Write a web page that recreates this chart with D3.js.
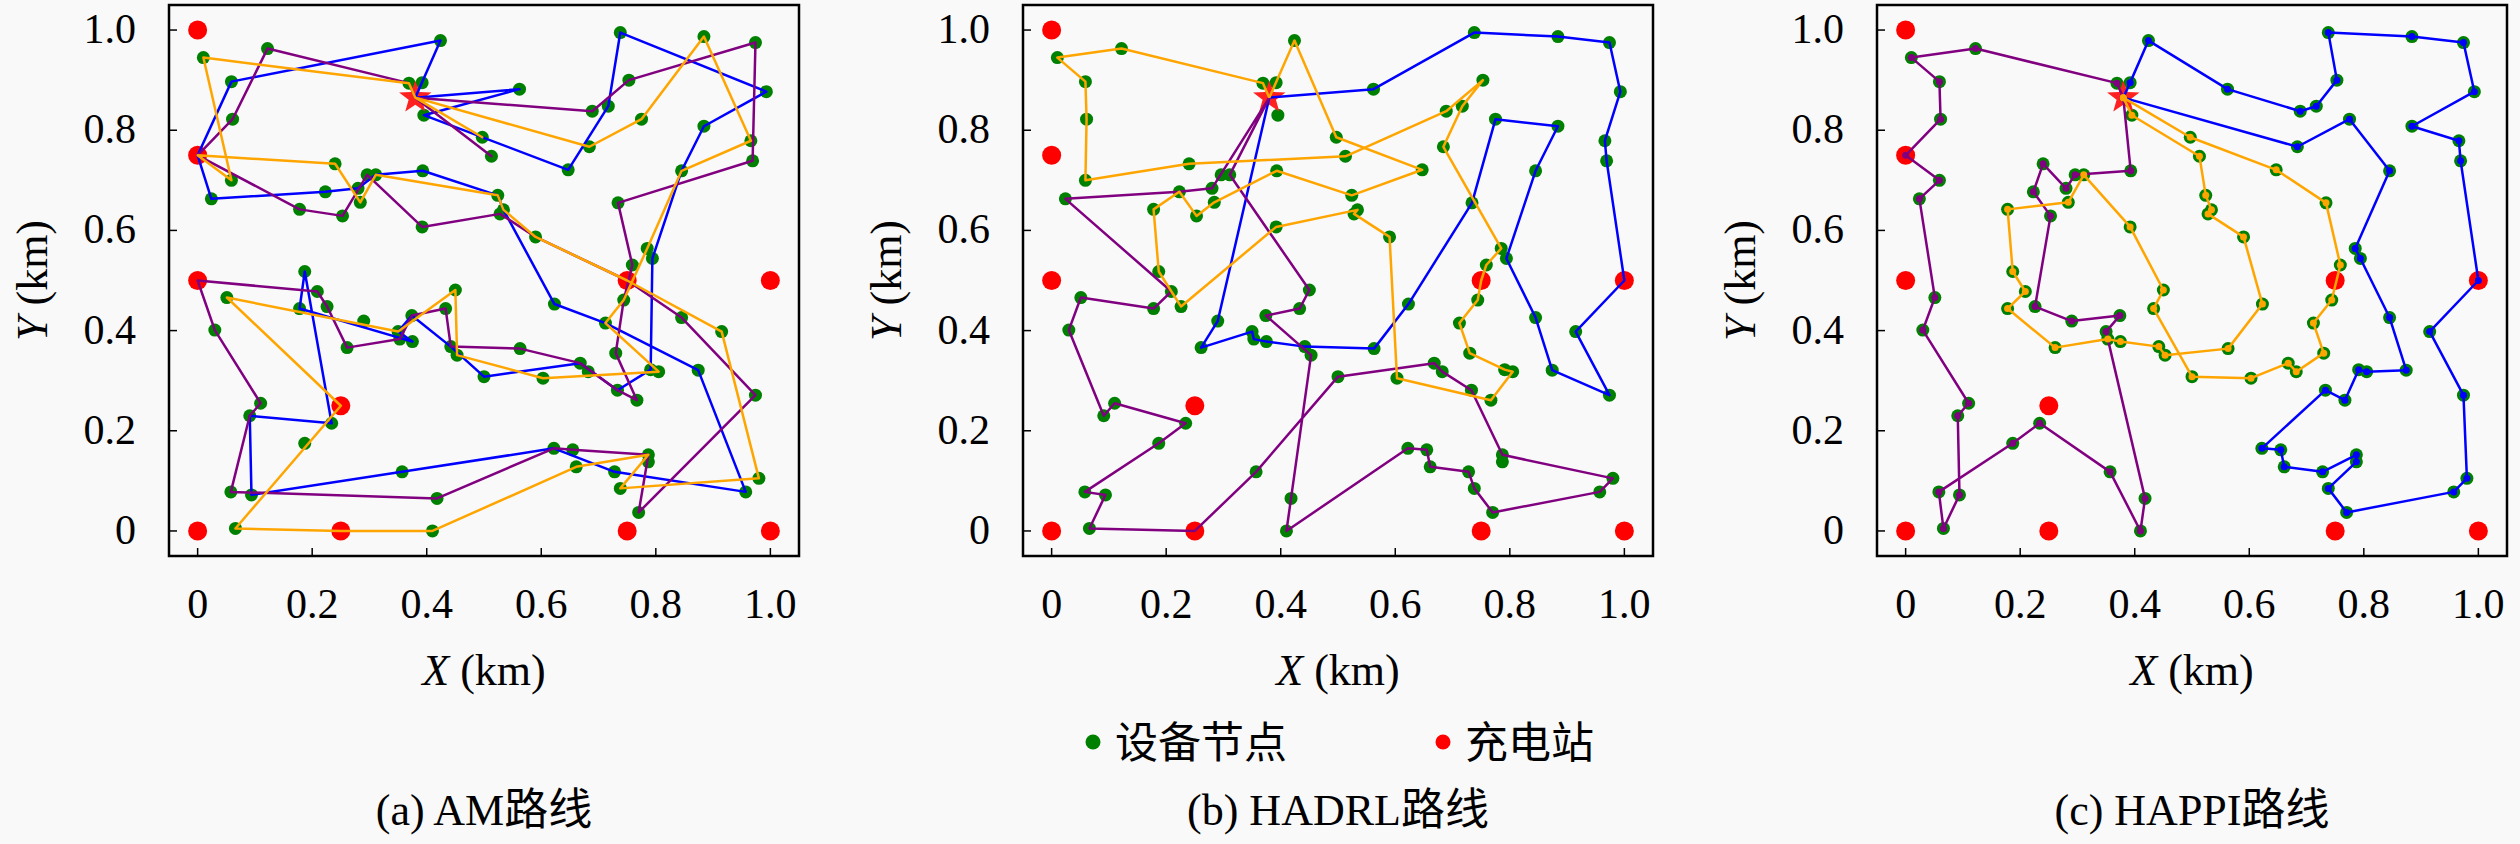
<!DOCTYPE html>
<html>
<head>
<meta charset="utf-8">
<script src="https://cdn.jsdelivr.net/npm/d3@7"></script>
<style>
  body { margin: 0; background: #f9f9f9; }
  text { font-family: "Liberation Serif", "Times New Roman", "DejaVu Serif", "Noto Sans CJK SC", serif; fill: #000; }
</style>
</head>
<body>
<svg id="chart" width="2520" height="844"></svg>
<script>
// depot (star), charging stations and device nodes, in km
var depot = [0.38, 0.865];
var chargers = [[0, 1], [0, 0.75], [0, 0.5], [0, 0], [0.25, 0.25],
                [0.25, 0], [0.75, 0.5], [0.75, 0], [1, 0.5], [1, 0]];
var nodes = [
  [0.369, 0.894], [0.122, 0.963], [0.010, 0.945], [0.059, 0.897], [0.061, 0.822],
  [0.059, 0.700], [0.024, 0.663], [0.051, 0.466], [0.030, 0.401], [0.110, 0.255],
  [0.091, 0.230], [0.094, 0.072], [0.066, 0.005], [0.058, 0.078], [0.187, 0.175],
  [0.234, 0.215], [0.357, 0.118], [0.410, 0.000], [0.418, 0.065], [0.350, 0.398],
  [0.374, 0.430], [0.290, 0.419], [0.226, 0.448], [0.253, 0.629], [0.223, 0.677],
  [0.240, 0.733], [0.280, 0.684], [0.296, 0.711], [0.311, 0.711], [0.393, 0.719],
  [0.497, 0.786], [0.513, 0.748], [0.524, 0.670], [0.534, 0.641], [0.590, 0.587],
  [0.623, 0.453], [0.563, 0.364], [0.453, 0.351], [0.442, 0.368], [0.375, 0.378],
  [0.261, 0.366], [0.178, 0.444], [0.209, 0.478], [0.187, 0.518], [0.178, 0.642],
  [0.284, 0.656], [0.353, 0.383], [0.392, 0.607], [0.450, 0.481], [0.433, 0.444],
  [0.500, 0.308], [0.603, 0.305], [0.668, 0.335], [0.682, 0.318], [0.730, 0.355],
  [0.712, 0.415], [0.744, 0.461], [0.759, 0.531], [0.734, 0.655], [0.647, 0.721],
  [0.392, 0.895], [0.424, 0.979], [0.562, 0.882], [0.689, 0.838], [0.717, 0.848],
  [0.753, 0.900], [0.738, 0.995], [0.884, 0.987], [0.974, 0.975], [0.993, 0.877],
  [0.884, 0.808], [0.966, 0.779], [0.969, 0.739], [0.915, 0.398], [0.974, 0.271],
  [0.980, 0.105], [0.957, 0.078], [0.770, 0.037], [0.738, 0.085], [0.787, 0.138],
  [0.787, 0.152], [0.728, 0.118], [0.661, 0.128], [0.655, 0.162], [0.622, 0.165],
  [0.733, 0.281], [0.767, 0.261], [0.791, 0.322], [0.805, 0.318], [0.874, 0.321],
  [0.845, 0.426], [0.794, 0.544], [0.785, 0.564], [0.845, 0.719], [0.775, 0.822],
  [0.684, 0.767], [0.395, 0.830], [0.528, 0.633]
];

// routes: "S" = depot, "Cn" = charger n, numbers = device node ids (1-based)
var amBlue = ["S", 63, 97, 60, 65, 67, 70, 71, 94, 92, 88, 86, 53, 51, 39, 21, 20, 40, 42, 44,
  16, 11, 12, 17, 85, 82, 77, 90, 56, 36, 34, 33, 30, 29, 27, 25, 7, "C2", 4, 62, "S"];
var amPurple = ["S", 1, 2, 5, "C2", 45, 24, 28, 48, 98, 35, "C7", 91, 75, 78, 81, 84, 85, 19, 14,
  11, 10, 9, "C3", 43, 23, 41, 47, 21, 50, 39, 37, 53, 86, 87, 55, 57, 58, 59, 73, 69, 66, 64, "S",
  32, "S"];
var amOrange = ["S", 1, 3, 6, "C2", 26, 46, 29, 33, 34, 35, "C7", 74, 76, 79, 81, 83, 18, "C6", 13,
  "C5", 8, 20, 49, 38, 52, 89, 56, 57, 93, 94, 72, 68, 95, 96, "S", 31, "S"];

var hadrlBlue = ["S", 22, 41, 20, 47, 40, 39, 37, 36, 59, 95, 71, 94, 92, 91, 90, 75, 74, "C9",
  73, 72, 70, 69, 68, 67, 63, "S"];
var hadrlPurple = ["S", 27, 25, 7, 43, 42, 8, 9, 11, 10, 16, 15, 14, 12, 13, "C6", 17, 51, 53, 54,
  86, 81, 76, 77, 78, 79, 82, 83, 84, 85, 18, 19, 38, 21, 50, 49, 29, "S"];
var hadrlOrange = ["S", 62, 31, 60, 33, 30, 46, 24, 25, 45, 44, 23, 48, 34, 98, 35, 52, 87, 89, 88,
  55, 56, 57, "C7", 58, 93, 96, 65, 66, 64, 32, 26, 6, 5, 4, 3, 2, 1, "S"];

var happiBlue = ["S", 61, 62, 63, 64, 65, 66, 67, 68, 69, 70, 71, 72, 73, "C9", 74, 75, 76, 77, 78,
  79, 80, 81, 82, 83, 84, 85, 86, 87, 88, 89, 90, 91, 92, 93, 94, 95, 96, "S"];
var happiPurple = ["S", 1, 2, 3, 4, 5, "C2", 6, 7, 8, 9, 10, 11, 12, 13, 14, 15, 16, 17, 18, 19,
  20, 21, 22, 23, 24, 25, 26, 27, 28, 30, "S"];
var happiOrange = ["S", 97, 32, 33, 34, 98, 35, 36, 37, 38, 39, 40, 47, 41, 42, 43, 44, 45, 46, 29,
  48, 49, 50, 51, 52, 53, 54, 55, 56, 57, 58, 59, 60, 31, "S"];

var ticks = [0, 0.2, 0.4, 0.6, 0.8, 1.0];
var tickLabels = ["0", "0.2", "0.4", "0.6", "0.8", "1.0"];
var captionTags = ["(a) AM", "(b) HADRL", "(c) HAPPI"];
var captionSuffix = "路线";
var routeColors = ["#0000ff", "#800080", "#ffa500"];
var legendLabels = ["设备节点", "充电站"];

var panelRoutes = [
  [amBlue, amPurple, amOrange],
  [hadrlBlue, hadrlPurple, hadrlOrange],
  [happiBlue, happiPurple, happiOrange]
];

var serif = "'Liberation Serif', 'Times New Roman', 'DejaVu Serif', serif";
var cjk = "'Noto Sans CJK SC', 'Noto Sans CJK JP', sans-serif";

var lefts = [169, 1023, 1877],
    panelTop = 5,
    w = 630,
    h = 551;

var x = d3.scaleLinear().domain([-0.05, 1.05]).range([0, w]);
var y = d3.scaleLinear().domain([-0.05, 1.05]).range([h, 0]);

function pt(k) {
  if (k === "S") return depot;
  if (typeof k === "string") return chargers[+k.slice(1) - 1];
  return nodes[k - 1];
}

function starPath(R, r) {
  var p = [];
  for (var i = 0; i < 10; i++) {
    var a = -Math.PI / 2 + i * Math.PI / 5;
    var rad = i % 2 ? r : R;
    p.push([rad * Math.cos(a), rad * Math.sin(a)]);
  }
  return "M" + p.join("L") + "Z";
}

var routeLine = d3.line()
  .x(function (k) { return x(pt(k)[0]); })
  .y(function (k) { return y(pt(k)[1]); });

var svg = d3.select("#chart");

svg.append("rect")
  .attr("width", 2520).attr("height", 844)
  .attr("fill", "#f9f9f9");

panelRoutes.forEach(function (routes, pi) {
  var g = svg.append("g")
    .attr("transform", "translate(" + lefts[pi] + "," + panelTop + ")");

  // device nodes
  g.selectAll(".node")
    .data(nodes)
    .enter().append("circle")
    .attr("class", "node")
    .attr("cx", function (d) { return x(d[0]); })
    .attr("cy", function (d) { return y(d[1]); })
    .attr("r", 6.5)
    .attr("fill", "#008000");

  // charging stations
  g.selectAll(".charger")
    .data(chargers)
    .enter().append("circle")
    .attr("class", "charger")
    .attr("cx", function (d) { return x(d[0]); })
    .attr("cy", function (d) { return y(d[1]); })
    .attr("r", 9.5)
    .attr("fill", "#ff0000");

  g.append("path")
    .attr("d", starPath(17, 7))
    .attr("transform", "translate(" + x(depot[0]) + "," + y(depot[1]) + ")")
    .attr("fill", "#ff2020");

  routes.forEach(function (r, ri) {
    g.append("path")
      .attr("d", routeLine(r))
      .attr("fill", "none")
      .attr("stroke", routeColors[ri])
      .attr("stroke-width", 2.5)
      .attr("stroke-linejoin", "round");

    // HAPPI plot shows the route markers on the nodes
    if (pi === 2) {
      g.selectAll(".m" + ri)
        .data(r)
        .enter().append("circle")
        .attr("class", "m" + ri)
        .attr("cx", function (k) { return x(pt(k)[0]); })
        .attr("cy", function (k) { return y(pt(k)[1]); })
        .attr("r", 3.5)
        .attr("fill", routeColors[ri]);
    }
  });

  // ticks (inward), only bottom and left
  ticks.forEach(function (t, i) {
    g.append("line")
      .attr("x1", x(t)).attr("x2", x(t))
      .attr("y1", h).attr("y2", h - 8)
      .attr("stroke", "#000").attr("stroke-width", 1.5);
    g.append("line")
      .attr("x1", 0).attr("x2", 8)
      .attr("y1", y(t)).attr("y2", y(t))
      .attr("stroke", "#000").attr("stroke-width", 1.5);

    g.append("text")
      .attr("x", x(t)).attr("y", 613)
      .attr("text-anchor", "middle")
      .attr("font-family", serif)
      .style("font-size", "42px")
      .text(tickLabels[i]);
    g.append("text")
      .attr("x", -33).attr("y", y(t) + 13)
      .attr("text-anchor", "end")
      .attr("font-family", serif)
      .style("font-size", "42px")
      .text(tickLabels[i]);
  });

  g.append("rect")
    .attr("width", w).attr("height", h)
    .attr("fill", "none")
    .attr("stroke", "#000")
    .attr("stroke-width", 2.5);

  var xl = g.append("text")
    .attr("x", w / 2).attr("y", 680)
    .attr("text-anchor", "middle")
    .attr("font-family", serif)
    .style("font-size", "44px");
  xl.append("tspan").style("font-style", "italic").text("X");
  xl.append("tspan").text(" (km)");

  var yl = g.append("text")
    .attr("transform", "translate(-137," + (h / 2) + ") rotate(-90)")
    .attr("text-anchor", "middle")
    .attr("dominant-baseline", "central")
    .attr("font-family", serif)
    .style("font-size", "44px");
  yl.append("tspan").style("font-style", "italic").text("Y");
  yl.append("tspan").text(" (km)");

  var cap = g.append("text")
    .attr("x", w / 2).attr("y", 820)
    .attr("text-anchor", "middle")
    .style("font-size", "44px");
  cap.append("tspan").attr("font-family", serif).text(captionTags[pi]);
  cap.append("tspan").attr("font-family", cjk).text(captionSuffix);
});

// legend
var legend = svg.append("g");
var legendX = [1093, 1443];
var legendFill = ["#008000", "#ff0000"];
legendLabels.forEach(function (lab, i) {
  legend.append("circle")
    .attr("cx", legendX[i]).attr("cy", 742)
    .attr("r", 7.5)
    .attr("fill", legendFill[i]);
  legend.append("text")
    .attr("x", legendX[i] + 22).attr("y", 758)
    .attr("font-family", cjk)
    .style("font-size", "43px")
    .text(lab);
});
</script>
</body>
</html>
